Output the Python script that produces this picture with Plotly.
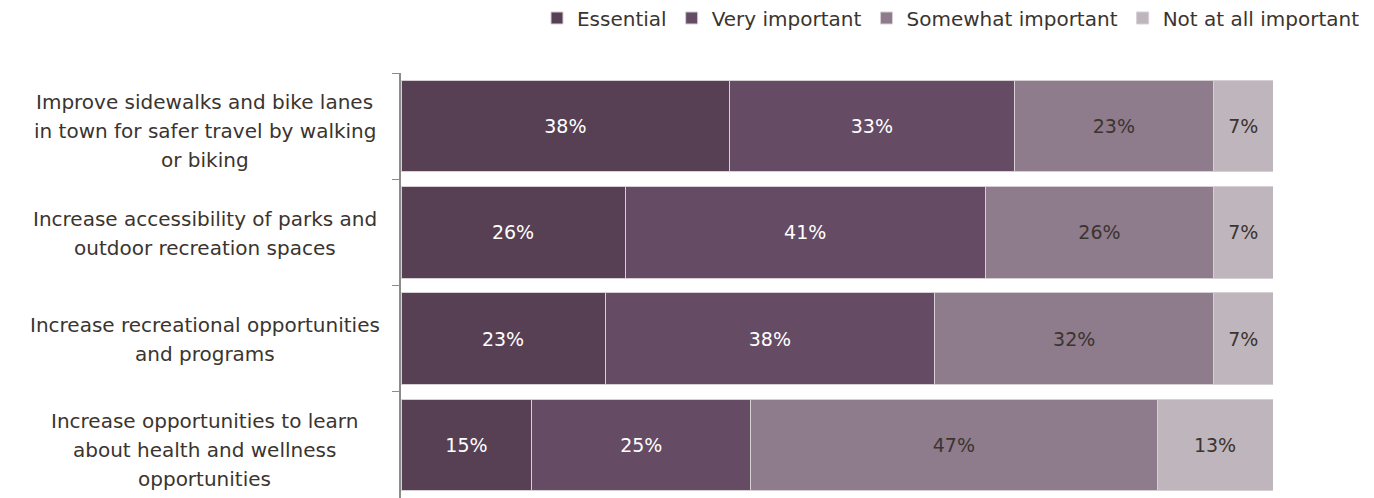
import plotly.graph_objects as go

categories = [
    "Improve sidewalks and bike lanes in town for safer travel by walking or biking",
    "Increase accessibility of parks and outdoor recreation spaces",
    "Increase recreational opportunities and programs",
    "Increase opportunities to learn about health and wellness opportunities",
]
label_lines = [
    ["Improve sidewalks and bike lanes", "in town for safer travel by walking", "or biking"],
    ["Increase accessibility of parks and", "outdoor recreation spaces"],
    ["Increase recreational opportunities", "and programs"],
    ["Increase opportunities to learn", "about health and wellness", "opportunities"],
]
series_names = ["Essential", "Very important", "Somewhat important", "Not at all important"]
essential = [37.7, 25.7, 23.4, 15.0]
very_important = [32.6, 41.3, 37.8, 25.1]
somewhat_important = [22.9, 26.2, 32.0, 46.6]
not_at_all = [6.8, 6.8, 6.8, 13.3]
values = [essential, very_important, somewhat_important, not_at_all]
colors = ["#574054", "#654b64", "#8e7b8b", "#bfb6bd"]
text_colors = ["#ffffff", "#ffffff", "#3b342f", "#3b342f"]

FONT = "DejaVu Sans, sans-serif"
fig = go.Figure()
for name, vals, col, tcol in zip(series_names, values, colors, text_colors):
    fig.add_trace(go.Bar(
        y=categories, x=vals, name=name, orientation="h",
        marker=dict(color=col, line=dict(color="#d6cfd4", width=1)),
        texttemplate="%{x:.0f}%", textposition="inside", insidetextanchor="middle",
        textfont=dict(color=tcol, size=19, family=FONT),
        hoverinfo="skip",
    ))

LINE = 28.7
for cat, lines in zip(categories, label_lines):
    n = len(lines)
    extra = -4 if n == 3 else 0
    for i, ln in enumerate(lines):
        fig.add_annotation(
            xref="paper", yref="y", x=-0.2248, y=cat, xanchor="center", yanchor="middle",
            text=ln, showarrow=False, yshift=((n - 1) / 2 - i) * LINE - 1 + extra,
            font=dict(size=20, color="#3b342f", family=FONT),
        )

fig.update_layout(
    barmode="stack", bargap=0.14,
    width=1366, height=490,
    margin=dict(l=393, r=101, t=65, b=0),
    plot_bgcolor="white", paper_bgcolor="white",
    font=dict(family=FONT, size=20, color="#3b342f"),
    uniformtext=dict(mode="show", minsize=10),
    legend=dict(orientation="h", x=0.9934, xref="container", xanchor="right", y=0.9796, yref="container",
                yanchor="middle", font=dict(size=20, color="#3b342f", family=FONT), traceorder="normal",
                itemwidth=30, tracegroupgap=0),
    showlegend=True,
)
fig.update_xaxes(range=[0, 100], visible=False, fixedrange=True)
fig.update_yaxes(autorange="reversed", showticklabels=False, showline=True, linecolor="#8c8c8c",
                 linewidth=1.5, ticks="outside", tickson="boundaries", ticklen=7, tickcolor="#8c8c8c",
                 showgrid=False, fixedrange=True)

fig.write_html("out.html")
